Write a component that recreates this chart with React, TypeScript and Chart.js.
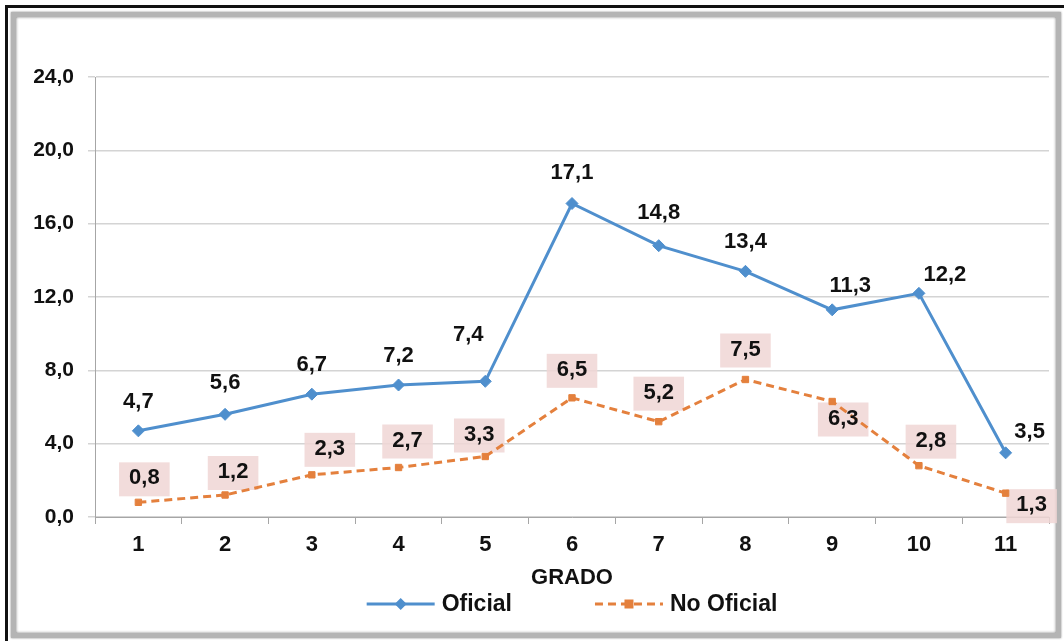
import React, { useEffect, useRef } from 'react';
import { Chart, registerables } from 'chart.js';

Chart.register(...registerables);

// ---------- data ----------
const grados = ['1', '2', '3', '4', '5', '6', '7', '8', '9', '10', '11'];
const oficial = [4.7, 5.6, 6.7, 7.2, 7.4, 17.1, 14.8, 13.4, 11.3, 12.2, 3.5];
const noOficial = [0.8, 1.2, 2.3, 2.7, 3.3, 6.5, 5.2, 7.5, 6.3, 2.8, 1.3];
const seriesNames = ['Oficial', 'No Oficial'];
const axisTitle = 'GRADO';
const yMin = 0;
const yMax = 24;
const yStep = 4;

// label placement nudges (px) relative to each point
const oficialLabelOffsets = [[0, -29], [0, -31], [0, -29], [0, -29], [-17, -46], [0, -31], [0, -33], [0, -29], [18, -24], [26, -18], [24, -21]];
const noOficialLabelOffsets = [[6, -24], [8, -23], [18, -26], [9, -27], [-6, -22], [0, -28], [0, -29], [0, -30], [11, 17], [12, -25], [26, 12]];

const BLUE = '#4f8fcd';
const ORANGE = '#e4803d';
const FONT = '"Liberation Sans", Arial, sans-serif';

const fmt = (v: number) => v.toFixed(1).replace('.', ',');

const labelsPlugin = {
  id: 'valueLabels',
  beforeDatasetsDraw(chart: any) {
    const ctx = chart.ctx;
    const meta = chart.getDatasetMeta(1);
    ctx.save();
    ctx.font = `bold 22px ${FONT}`;
    meta.data.forEach((pt: any, i: number) => {
      const [dx, dy] = noOficialLabelOffsets[i];
      const t = fmt(noOficial[i]);
      const w = ctx.measureText(t).width + 20;
      const h = 34;
      ctx.fillStyle = 'rgba(240, 214, 213, 0.85)';
      ctx.fillRect(pt.x + dx - w / 2, pt.y + dy - h / 2 + 1, w, h);
    });
    ctx.restore();
  },
  afterDatasetsDraw(chart: any) {
    const ctx = chart.ctx;
    ctx.save();
    ctx.font = `bold 22px ${FONT}`;
    ctx.fillStyle = '#111';
    ctx.textAlign = 'center';
    ctx.textBaseline = 'middle';
    const sets: [number[], number[][]][] = [[oficial, oficialLabelOffsets], [noOficial, noOficialLabelOffsets]];
    sets.forEach(([vals, offs], di) => {
      const meta = chart.getDatasetMeta(di);
      meta.data.forEach((pt: any, i: number) => {
        ctx.fillText(fmt(vals[i]), pt.x + offs[i][0], pt.y + offs[i][1]);
      });
    });
    ctx.restore();
  },
  afterDraw(chart: any) {
    // legend: line sample with marker, then name
    const ctx = chart.ctx;
    const area = chart.chartArea;
    ctx.save();
    ctx.font = `bold 23px ${FONT}`;
    const sampleW = 68;
    const gapText = 7;
    const gapItem = 83;
    const widths = seriesNames.map((n) => sampleW + gapText + ctx.measureText(n).width);
    const total = widths[0] + gapItem + widths[1];
    let x = (area.left + area.right) / 2 - total / 2;
    const y = area.bottom + 87;
    seriesNames.forEach((name, i) => {
      ctx.save();
      ctx.lineWidth = 3;
      if (i === 0) {
        ctx.strokeStyle = BLUE;
        ctx.setLineDash([]);
      } else {
        ctx.strokeStyle = ORANGE;
        ctx.setLineDash([8, 5]);
      }
      ctx.beginPath();
      ctx.moveTo(x, y);
      ctx.lineTo(x + sampleW, y);
      ctx.stroke();
      const cx = x + sampleW / 2;
      if (i === 0) {
        ctx.fillStyle = BLUE;
        ctx.beginPath();
        ctx.moveTo(cx, y - 6);
        ctx.lineTo(cx + 6, y);
        ctx.lineTo(cx, y + 6);
        ctx.lineTo(cx - 6, y);
        ctx.closePath();
        ctx.fill();
      } else {
        ctx.fillStyle = ORANGE;
        ctx.fillRect(cx - 4.5, y - 4.5, 9, 9);
      }
      ctx.restore();
      ctx.fillStyle = '#111';
      ctx.textAlign = 'left';
      ctx.textBaseline = 'middle';
      ctx.fillText(name, x + sampleW + gapText, y + 1);
      x += widths[i] + gapItem;
    });
    ctx.restore();
  },
};

export default function App() {
  const ref = useRef<HTMLCanvasElement | null>(null);

  useEffect(() => {
    document.body.style.margin = '0';
    if (!ref.current) return;
    const chart = new Chart(ref.current, {
      type: 'line',
      data: {
        labels: grados,
        datasets: [
          {
            label: seriesNames[0],
            data: oficial,
            borderColor: BLUE,
            backgroundColor: BLUE,
            borderWidth: 3,
            pointStyle: 'rectRot',
            pointRadius: 6,
            pointBorderWidth: 1,
            pointBackgroundColor: BLUE,
            pointBorderColor: BLUE,
            tension: 0,
            fill: false,
          },
          {
            label: seriesNames[1],
            data: noOficial,
            borderColor: ORANGE,
            backgroundColor: ORANGE,
            borderWidth: 3,
            borderDash: [8, 5],
            pointStyle: 'rect',
            pointRadius: 4.5,
            pointBorderWidth: 1,
            pointBackgroundColor: ORANGE,
            pointBorderColor: ORANGE,
            tension: 0,
            fill: false,
          },
        ],
      },
      options: {
        responsive: false,
        animation: false,
        devicePixelRatio: 1,
        layout: { padding: { left: 0, top: 77, right: 15, bottom: 49 } },
        plugins: {
          legend: { display: false },
          tooltip: { enabled: false },
        },
        scales: {
          x: {
            type: 'category',
            offset: true,
            grid: {
              offset: true,
              drawOnChartArea: false,
              drawTicks: true,
              tickLength: 7,
              color: '#a6a6a6',
            },
            border: { color: '#a6a6a6', width: 1 },
            ticks: {
              color: '#111',
              font: { family: FONT, size: 22, weight: 'bold' },
              padding: 8,
              maxRotation: 0,
            },
            title: {
              display: true,
              text: axisTitle,
              color: '#111',
              font: { family: FONT, size: 22, weight: 'bold' },
              padding: { top: 0, bottom: 1 },
            },
            afterFit: (s: any) => {
              s.height = 75;
            },
          },
          y: {
            min: yMin,
            max: yMax,
            ticks: {
              stepSize: yStep,
              color: '#111',
              font: { family: FONT, size: 21, weight: 'bold' },
              padding: 14,
              callback: (v: any) => fmt(Number(v)),
            },
            grid: {
              color: '#d4d4d4',
              lineWidth: 1.5,
              tickLength: 7,
            },
            border: { color: '#a6a6a6', width: 1 },
            afterFit: (s: any) => {
              s.width = 95;
            },
          },
        },
      },
      plugins: [labelsPlugin],
    });
    return () => chart.destroy();
  }, []);

  return (
    <div style={{ position: 'relative', width: 1064, height: 641, background: '#fff', overflow: 'hidden' }}>
      <div
        style={{
          position: 'absolute',
          left: 5,
          top: 5,
          width: 1059,
          height: 636,
          borderTop: '3px solid #111',
          borderLeft: '3px solid #111',
          boxSizing: 'border-box',
        }}
      />
      <div
        style={{
          position: 'absolute',
          left: 11,
          top: 12,
          width: 1050,
          height: 626,
          border: '5px solid #b4b4b4',
          boxShadow: 'inset 0 0 3px #7a7a7a, 0 0 2px #8a8a8a',
          boxSizing: 'border-box',
        }}
      />
      <canvas ref={ref} width={1064} height={641} style={{ position: 'absolute', left: 0, top: 0 }} />
    </div>
  );
}
